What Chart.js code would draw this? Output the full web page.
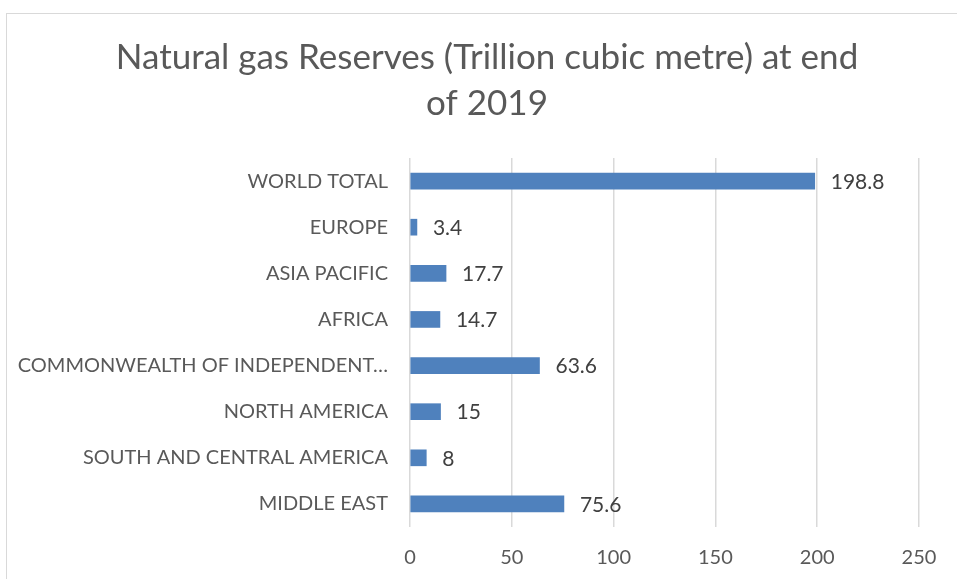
<!DOCTYPE html>
<html>
<head>
<meta charset="utf-8">
<title>Natural gas Reserves</title>
<script src="https://cdn.jsdelivr.net/npm/chart.js@4/dist/chart.umd.min.js"></script>
<style>
  html, body { margin: 0; padding: 0; background: #fff; overflow: hidden; }
  #box {
    position: absolute;
    left: 6px;
    top: 13px;
    width: 960px;
    height: 600px;
    border: 1px solid #d9d9d9;
    background: #fff;
  }
  #gasChart { display: block; }
</style>
</head>
<body>
<div id="box"><canvas id="gasChart" width="960" height="600"></canvas></div>
<script>
const regiones = [
  "WORLD TOTAL",
  "EUROPE",
  "ASIA PACIFIC",
  "AFRICA",
  "COMMONWEALTH OF INDEPENDENT STATES",
  "NORTH AMERICA",
  "SOUTH AND CENTRAL AMERICA",
  "MIDDLE EAST"
];
const reservas = [198.8, 3.4, 17.7, 14.7, 63.6, 15, 8, 75.6];
const ticksX = [0, 50, 100, 150, 200, 250];

const fuente = "Lato, 'Open Sans', sans-serif";

// etiquetas de valor a la derecha de cada barra
const etiquetasValor = {
  id: "etiquetasValor",
  afterDatasetsDraw(chart) {
    const c = chart.ctx;
    const meta = chart.getDatasetMeta(0);
    c.save();
    c.font = "21px " + fuente;
    c.fillStyle = "#404040";
    c.textAlign = "left";
    c.textBaseline = "middle";
    meta.data.forEach((barra, i) => {
      c.fillText(String(reservas[i]), barra.x + 16, barra.y + 1);
    });
    c.restore();
  }
};

new Chart(document.getElementById("gasChart"), {
  type: "bar",
  data: {
    labels: regiones,
    datasets: [{
      data: reservas,
      backgroundColor: "#4f81bd",
      borderWidth: 0,
      barThickness: 16
    }]
  },
  options: {
    indexAxis: "y",
    responsive: false,
    animation: false,
    layout: { padding: { left: 0, right: 0, top: 0, bottom: 27 } },
    plugins: {
      legend: { display: false },
      tooltip: { enabled: false },
      title: {
        display: true,
        text: ["Natural gas Reserves (Trillion cubic metre) at end", "of 2019"],
        color: "#595959",
        font: { family: fuente, size: 35, weight: "normal", lineHeight: 1.3 },
        padding: { top: 21, bottom: 32 }
      }
    },
    scales: {
      x: {
        min: 0,
        max: 250,
        afterBuildTicks(scale) {
          scale.ticks = ticksX.map(v => ({ value: v }));
        },
        afterFit(scale) { scale.height = 60; },
        grid: { color: "#d9d9d9", lineWidth: 1.5, drawTicks: false },
        border: { display: false },
        ticks: {
          color: "#595959",
          padding: 19,
          font: { family: fuente, size: 20 }
        }
      },
      y: {
        afterFit(scale) { scale.width = 403; },
        grid: { display: false, drawTicks: false },
        border: { display: false },
        ticks: {
          color: "#595959",
          padding: 22,
          font: { family: fuente, size: 20 },
          callback(valor) {
            const t = this.getLabelForValue(valor);
            return t.length > 27 ? t.slice(0, 27) + "…" : t;
          }
        }
      },
      // eje vacío a la derecha: deja margen sin descentrar el título
      margenDer: {
        type: "category",
        position: "right",
        afterFit(scale) { scale.width = 48; },
        grid: { display: false, drawTicks: false },
        border: { display: false },
        ticks: { display: false }
      }
    }
  },
  plugins: [etiquetasValor]
});
</script>
</body>
</html>
